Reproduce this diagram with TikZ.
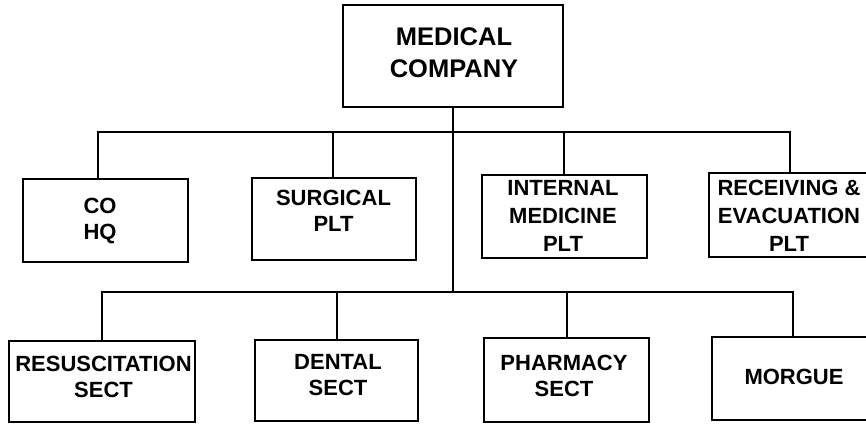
\documentclass[tikz,border=0pt]{standalone}
\usepackage{fontspec}
\setmainfont{Liberation Sans}
\begin{document}
\begin{tikzpicture}[x=1pt,y=-1pt,
  box/.style={draw=black,line width=2.2pt,minimum width=#1,inner sep=0pt},
  box/.default=165pt,
  lbl/.style={align=center,inner sep=0pt,font=\bfseries\fontsize{22}{26}\selectfont},
  lblbig/.style={align=center,inner sep=0pt,font=\bfseries\fontsize{25.5}{32}\selectfont},
  lblthree/.style={align=center,inner sep=0pt,font=\bfseries\fontsize{22}{28}\selectfont},
  conn/.style={line width=2.2pt,line cap=rect}]
\useasboundingbox (0,0) rectangle (866,423);
\begin{scope}
\clip (0,0) rectangle (866,423);
% top box
\node[box=220pt,minimum height=102pt] (top) at (453,56) {};
\node[lblbig] (topt) at (454,52.5) {MEDICAL\\COMPANY};
% row 1
\node[box,minimum height=83pt] (coh) at (105.5,220.5) {};
\node[lbl] (coht) at (100,221) {CO\\HQ};
\node[box=164pt,minimum height=82pt] (surg) at (334,219) {};
\node[lbl] (surgt) at (333.5,211) {SURGICAL\\PLT};
\node[box,minimum height=83pt] (intm) at (564.5,216.5) {};
\node[lblthree] (intmt) at (563,216) {INTERNAL\\MEDICINE\\PLT};
\node[box,minimum height=84pt] (recv) at (791.5,215) {};
\node[lblthree] (recvt) at (789,215.5) {RECEIVING \&\\EVACUATION\\PLT};
% row 2
\node[box=186pt,minimum height=81pt] (resus) at (102,381.5) {};
\node[lbl] (resust) at (103.5,376.5) {RESUSCITATION\\SECT};
\node[box=163pt,minimum height=81pt] (dent) at (336.5,380.5) {};
\node[lbl] (dentt) at (338,375.5) {DENTAL\\SECT};
\node[box,minimum height=84pt] (pharm) at (566.5,380) {};
\node[lbl] (pharmt) at (564,376) {PHARMACY\\SECT};
\node[box,minimum height=83pt] (morg) at (794.5,378.5) {};
\node[lbl] (morgt) at (794,376.5) {MORGUE};
% bus coordinates
\coordinate (b1) at (453,132);
\coordinate (b2) at (453,292);
\coordinate (c1) at (98,132);
\coordinate (c2) at (333,132);
\coordinate (c3) at (564,132);
\coordinate (c4) at (790,132);
\coordinate (d1) at (102,292);
\coordinate (d2) at (337,292);
\coordinate (d3) at (567,292);
\coordinate (d4) at (793,292);
% connectors
\draw[conn] (top.south) -- (b2);
\draw[conn] (c1) -- (c4);
\draw[conn] (d1) -- (d4);
\draw[conn] (c1) -- (c1 |- coh.north);
\draw[conn] (c2) -- (c2 |- surg.north);
\draw[conn] (c3) -- (c3 |- intm.north);
\draw[conn] (c4) -- (c4 |- recv.north);
\draw[conn] (d1) -- (d1 |- resus.north);
\draw[conn] (d2) -- (d2 |- dent.north);
\draw[conn] (d3) -- (d3 |- pharm.north);
\draw[conn] (d4) -- (d4 |- morg.north);
\end{scope}
\end{tikzpicture}
\end{document}
